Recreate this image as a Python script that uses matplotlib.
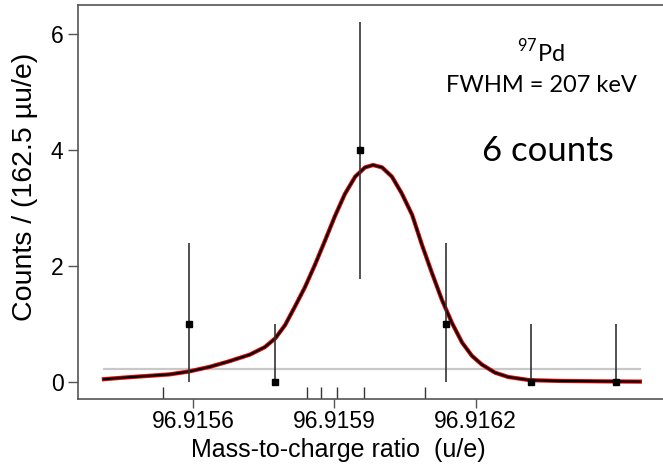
import matplotlib
matplotlib.use("Agg")
import matplotlib.pyplot as plt
from matplotlib.font_manager import FontProperties

plt.rcParams["font.family"] = ["Liberation Sans", "DejaVu Sans"]
plt.rcParams["mathtext.fontset"] = "custom"
plt.rcParams["mathtext.rm"] = "Lato"

# ---- data ----
bin_centers = [96.915591, 96.915773, 96.915954, 96.916136, 96.916317, 96.916498]
counts = [1, 0, 4, 1, 0, 0]
err_lower_bound = [0.0, 0.0, 1.77, 0.0, 0.0, 0.0]
err_upper_bound = [2.4, 1.0, 6.2, 2.4, 1.0, 1.0]

fit_x = [96.915410, 96.915455, 96.915497, 96.915550, 96.915591, 96.915635,
         96.915674, 96.915720, 96.915752, 96.915774, 96.915795, 96.915816,
         96.915837, 96.915859, 96.915880, 96.915901, 96.915922, 96.915944,
         96.915965, 96.915982, 96.916001, 96.916022, 96.916043, 96.916065,
         96.916086, 96.916107, 96.916128, 96.916150, 96.916171, 96.916192,
         96.916213, 96.916241, 96.916269, 96.916315, 96.916379, 96.916464,
         96.916549]
fit_y = [0.047, 0.076, 0.10, 0.13, 0.18, 0.26,
         0.35, 0.47, 0.60, 0.75, 0.98, 1.30,
         1.63, 2.03, 2.44, 2.86, 3.24, 3.54,
         3.70, 3.74, 3.70, 3.54, 3.25, 2.88,
         2.36, 1.88, 1.42, 1.01, 0.68, 0.45,
         0.30, 0.16, 0.085, 0.03, 0.017, 0.01,
         0.005]

background_level = 0.22
background_range = [96.915410, 96.916549]

event_positions = [96.915536, 96.915842, 96.915871, 96.915905, 96.915962, 96.916092]

xticks = [96.9156, 96.9159, 96.9162]
xtick_labels = ["96.9156", "96.9159", "96.9162"]
yticks = [0, 2, 4, 6]
ytick_labels = ["0", "2", "4", "6"]

# ---- figure ----
arial = FontProperties(family="Liberation Sans")
fig = plt.figure(figsize=(6.63, 4.69), dpi=100)
ax = fig.add_axes([78 / 663, 1 - 399.3 / 469, 1 - 78 / 663, (399.3 - 5) / 469])

ax.set_xlim(96.915355, 96.916598)
ax.set_ylim(-0.3, 6.5)

# background line
ax.plot(background_range, [background_level, background_level], color="#c8c8c8", lw=1.6, zorder=1)

# fit curve: red outline with black core
ax.plot(fit_x, fit_y, color="#e00000", lw=3.0, solid_joinstyle="round", zorder=3)
ax.plot(fit_x, fit_y, color="black", lw=1.5, solid_joinstyle="round", zorder=4)

# data with asymmetric error bars
lower = [c - lo for c, lo in zip(counts, err_lower_bound)]
upper = [hi - c for c, hi in zip(counts, err_upper_bound)]
ax.errorbar(bin_centers, counts, yerr=[lower, upper], fmt="s", color="black",
            ecolor="#333333", elinewidth=1.2, capsize=0, markersize=5, zorder=5)

# event rug marks
ax.vlines(event_positions, 0, 0.03, transform=ax.get_xaxis_transform(),
          color="#333333", lw=1.0, zorder=2)

# spines
for s in ["left", "bottom", "top"]:
    ax.spines[s].set_color("#555555")
    ax.spines[s].set_linewidth(1.2)
ax.spines["right"].set_visible(False)

ax.set_xticks(xticks)
ax.set_xticklabels(xtick_labels, fontproperties=arial, fontsize=16.5)
ax.set_yticks(yticks)
ax.set_yticklabels(ytick_labels, fontproperties=arial, fontsize=16.5)
ax.tick_params(axis="both", direction="out", width=1.0, color="#555555")
ax.tick_params(axis="x", length=6.5, pad=1.5, top=False)
ax.tick_params(axis="y", length=7.5, pad=3)

ax.set_xlabel("Mass-to-charge ratio  (u/e)", fontproperties=arial, fontsize=18)
ax.xaxis.set_label_coords((338 - 78) / 585, (399.3 - 450) / 394.3)
ax.xaxis.label.set_va("center")
ax.set_ylabel("Counts / (162.5 \u00b5u/e)", fontproperties=arial, fontsize=20.5)
ax.yaxis.set_label_coords((25 - 78) / 585, (399.3 - 187) / 394.3)
ax.yaxis.label.set_va("center")

lato = FontProperties(family="Lato")
fig.text(541 / 663, 1 - 52 / 469, r"$^{\mathrm{97}}$Pd", ha="center", va="center",
         fontproperties=lato, fontsize=17)
fig.text(541 / 663, 1 - 86 / 469, "FWHM = 207 keV", ha="center", va="center",
         fontproperties=lato, fontsize=17)
fig.text(548 / 663, 1 - 151 / 469, "6 counts", ha="center", va="center",
         fontproperties=lato, fontsize=25)

fig.savefig("out.png", dpi=100)
